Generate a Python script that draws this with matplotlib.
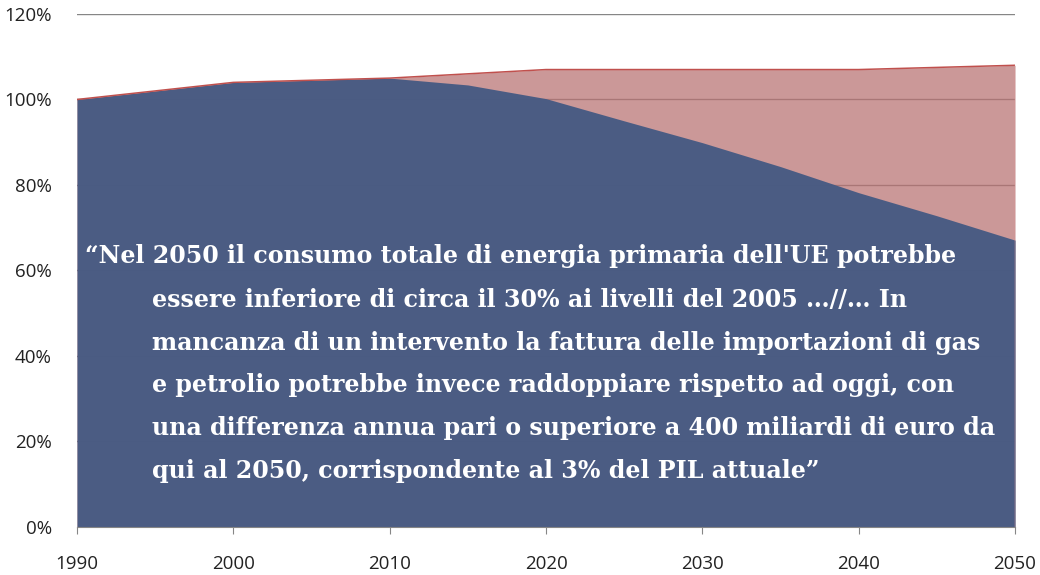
import matplotlib
matplotlib.use("Agg")
import matplotlib.pyplot as plt
from matplotlib.ticker import FuncFormatter

years = [1990, 1995, 2000, 2005, 2010, 2015, 2020, 2025, 2030, 2035, 2040, 2045, 2050]
baseline = [100, 102, 104, 104.5, 105, 106, 107, 107, 107, 107, 107, 107.5, 108]
scenario = [100, 102, 104, 104.5, 105, 103.4, 100.2, 95, 89.9, 84.3, 78.2, 72.8, 67.1]
yticks = [0, 20, 40, 60, 80, 100, 120]
xticks = [1990, 2000, 2010, 2020, 2030, 2040, 2050]

quote_lines = [
    "\u201cNel 2050 il consumo totale di energia primaria dell'UE potrebbe",
    "essere inferiore di circa il 30% ai livelli del 2005 \u2026//\u2026 In",
    "mancanza di un intervento la fattura delle importazioni di gas",
    "e petrolio potrebbe invece raddoppiare rispetto ad oggi, con",
    "una differenza annua pari o superiore a 400 miliardi di euro da",
    "qui al 2050, corrispondente al 3% del PIL attuale\u201d",
]

fig = plt.figure(figsize=(10.4, 5.75), dpi=100)
ax = fig.add_axes([0.074, 0.0835, 0.902, 0.8922])

ax.set_xlim(1990, 2050)
ax.set_ylim(0, 120)
ax.set_yticks(yticks)
ax.set_xticks(xticks)
for y in yticks[1:]:
    ax.axhline(y, color="#868686", lw=1.0, zorder=0)

ax.fill_between(years, 0, baseline, color=(184/255, 113/255, 113/255), alpha=0.72, lw=0, zorder=1)
ax.fill_between(years, 0, scenario, color=(70/255, 90/255, 131/255), alpha=0.96, lw=0, zorder=2)
ax.plot(years, baseline, color="#C0504D", lw=1.1, zorder=3)
ax.plot([2050, 2050], [0, baseline[-1]], color="#E09090", lw=1.0, zorder=3)

ax.yaxis.set_major_formatter(FuncFormatter(lambda v, p: f"{int(v)}%"))
for s in ["top", "right", "left"]:
    ax.spines[s].set_visible(False)
ax.spines["bottom"].set_color("#868686")
ax.tick_params(axis="y", length=0, pad=18, labelsize=13.5, labelcolor="#222222")
ax.tick_params(axis="x", direction="out", length=5, color="#868686", pad=15,
               labelsize=13.5, labelcolor="#222222")
for lab in ax.get_xticklabels() + ax.get_yticklabels():
    lab.set_fontfamily("Open Sans")

ys_px = [256, 300, 343, 385, 428, 471]
xs_px = [85, 152, 152, 152, 152, 152]
for line, xp, yp in zip(quote_lines, xs_px, ys_px):
    fig.text(xp / 1040, 1 - yp / 575, line, color="white", fontsize=17.1,
             fontweight="bold", family="DejaVu Serif", va="center", ha="left", zorder=5)

fig.savefig("out.png", dpi=100)
